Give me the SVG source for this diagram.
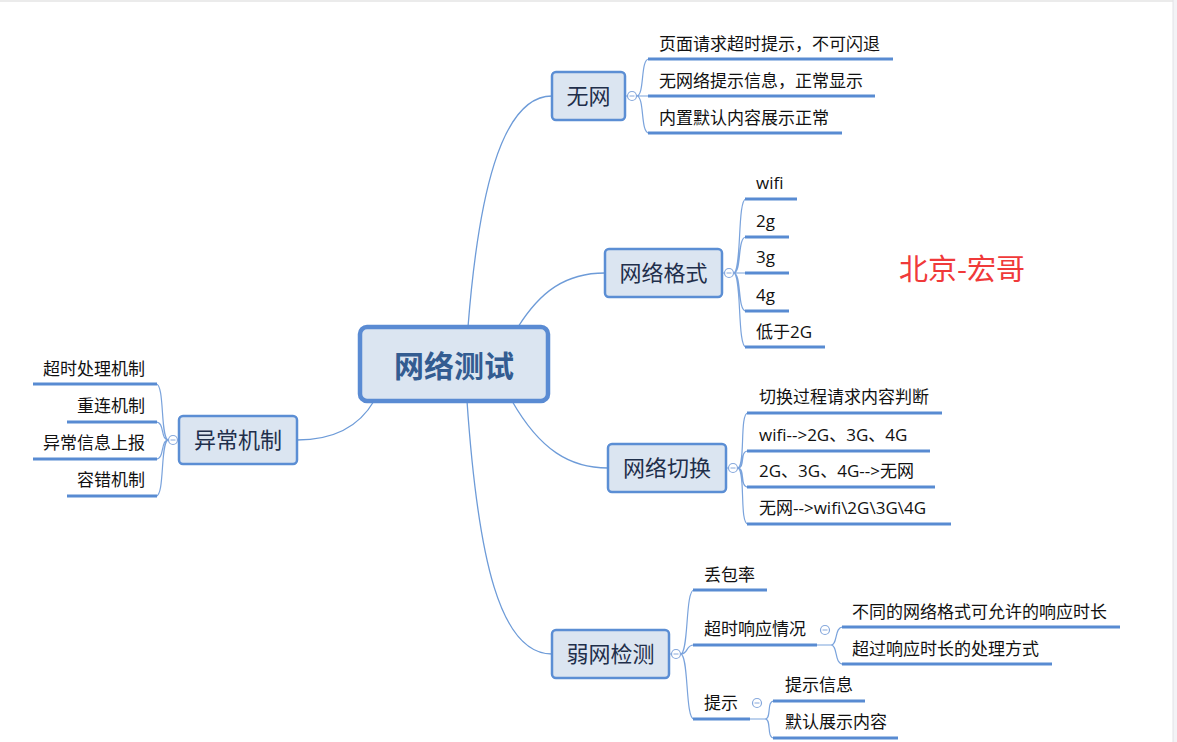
<svg xmlns="http://www.w3.org/2000/svg" width="1177" height="742" viewBox="0 0 1177 742">
<style>
.t{font-family:"Noto Sans CJK SC","Liberation Sans",sans-serif;}
.ct{font-family:"Open Sans","Noto Sans CJK SC",sans-serif;font-size:17px;fill:#111;}
.nb{fill:#dbe5f1;stroke:#5b8ed4;stroke-width:2.5;}
.nt{font-size:22px;fill:#1f2f4b;text-anchor:middle;}
.ul{stroke:#588bd2;stroke-width:3;fill:none;}
.cn{stroke:#6d9bd8;stroke-width:1.3;fill:none;}
.br{stroke:#7aa3dc;stroke-width:1.2;fill:none;}
.cc{fill:#fff;stroke:#86a8dc;stroke-width:1.2;}
</style>
<defs>
<g id="col"><circle class="cc" r="4.5"/><line x1="-2.5" y1="0" x2="2.5" y2="0" stroke="#86a8dc" stroke-width="1"/></g>
</defs>
<rect x="0" y="0" width="1177" height="742" fill="#fff"/>
<rect x="0" y="0" width="1177" height="2" fill="#ebebeb"/>
<rect x="1173" y="0" width="4" height="742" fill="#f3f3f6"/>
<line x1="1173" y1="0" x2="1173" y2="742" stroke="#e2e2e6" stroke-width="1"/>

<g id="connectors">
<path class="cn" d="M468,327 C478,200 500,96 552,96"/>
<path class="cn" d="M518,327 C540,292 565,273 605,273"/>
<path class="cn" d="M512,401 C540,450 570,468 608,468"/>
<path class="cn" d="M467,401 C478,560 500,654 552,654"/>
<path class="cn" d="M297,440 C335,440 360,425 374,401"/>
<path class="br" d="M625,96 H627.5 M636.5,96 C645,96 640,59 649,59 M636.5,96 H649 M636.5,96 C645,96 640,133 649,133"/>
<path class="br" d="M722,273 H724.5 M733.5,273 C742,273 737,199 746,199 M733.5,273 C742,273 737,237 746,237 M733.5,273 H746 M733.5,273 C742,273 737,311 746,311 M733.5,273 C742,273 737,347 746,347"/>
<path class="br" d="M726,468 H728.5 M737.5,468 C746,468 739,413 748,413 M737.5,468 C746,468 739,451 748,451 M737.5,468 C746,468 739,487 748,487 M737.5,468 C746,468 739,524 748,524"/>
<path class="br" d="M179,440 H177.5 M168.5,440 C160,440 165,384 156,384 M168.5,440 C160,440 165,422 156,422 M168.5,440 C160,440 165,459 156,459 M168.5,440 C160,440 165,496 156,496"/>
<path class="br" d="M669,654 H671.5 M680.5,654 C689,654 685,590 694,590 M680.5,654 C689,654 685,645 694,645 M680.5,654 C689,654 685,719 694,719"/>
<path class="br" d="M817,645 H831 C838,645 834,627 843,627 M831,645 C838,645 834,664 843,664"/>
<path class="br" d="M750,719 H765 C772,719 766,701 774,701 M765,719 C772,719 766,738 774,738"/>
</g>

<g id="central">
<rect x="360" y="327" width="188" height="74" rx="7" fill="#dbe5f1" stroke="#5a8bd3" stroke-width="4.5"/>
<text class="t" x="454" y="377" font-size="30" font-weight="bold" fill="#335c91" text-anchor="middle">网络测试</text>
</g>

<g id="node-wuwang">
<rect class="nb" x="552" y="72" width="73" height="48" rx="4"/>
<text class="t nt" x="588.5" y="104">无网</text>
<use href="#col" x="632" y="96"/>
</g>
<g id="wuwang-1"><text class="ct" x="659" y="50">页面请求超时提示，不可闪退</text><line class="ul" x1="648" y1="59" x2="893" y2="59"/></g>
<g id="wuwang-2"><text class="ct" x="659" y="87">无网络提示信息，正常显示</text><line class="ul" x1="648" y1="96" x2="875" y2="96"/></g>
<g id="wuwang-3"><text class="ct" x="659" y="124">内置默认内容展示正常</text><line class="ul" x1="648" y1="133" x2="842" y2="133"/></g>

<g id="node-geshi">
<rect class="nb" x="605" y="249" width="117" height="48" rx="4"/>
<text class="t nt" x="663.5" y="281">网络格式</text>
<use href="#col" x="729" y="273"/>
</g>
<g id="geshi-1"><text class="ct" x="756" y="189">wifi</text><line class="ul" x1="745" y1="199" x2="797" y2="199"/></g>
<g id="geshi-2"><text class="ct" x="756" y="227">2g</text><line class="ul" x1="745" y1="237" x2="789" y2="237"/></g>
<g id="geshi-3"><text class="ct" x="756" y="263">3g</text><line class="ul" x1="745" y1="273" x2="789" y2="273"/></g>
<g id="geshi-4"><text class="ct" x="756" y="301">4g</text><line class="ul" x1="745" y1="311" x2="789" y2="311"/></g>
<g id="geshi-5"><text class="ct" x="756" y="338">低于2G</text><line class="ul" x1="745" y1="347" x2="825" y2="347"/></g>

<g id="node-qiehuan">
<rect class="nb" x="608" y="444" width="118" height="48" rx="4"/>
<text class="t nt" x="667" y="476">网络切换</text>
<use href="#col" x="733" y="468"/>
</g>
<g id="qiehuan-1"><text class="ct" x="759" y="403">切换过程请求内容判断</text><line class="ul" x1="747" y1="413" x2="942" y2="413"/></g>
<g id="qiehuan-2"><text class="ct" x="759" y="441">wifi--&gt;2G、3G、4G</text><line class="ul" x1="747" y1="451" x2="930" y2="451"/></g>
<g id="qiehuan-3"><text class="ct" x="759" y="477">2G、3G、4G--&gt;无网</text><line class="ul" x1="747" y1="487" x2="935" y2="487"/></g>
<g id="qiehuan-4"><text class="ct" x="759" y="514">无网--&gt;wifi\2G\3G\4G</text><line class="ul" x1="747" y1="524" x2="951" y2="524"/></g>

<g id="node-ruowang">
<rect class="nb" x="552" y="630" width="117" height="48" rx="4"/>
<text class="t nt" x="610.5" y="662">弱网检测</text>
<use href="#col" x="676" y="654"/>
</g>
<g id="ruowang-1"><text class="ct" x="704" y="581">丢包率</text><line class="ul" x1="693" y1="590" x2="767" y2="590"/></g>
<g id="ruowang-2"><text class="ct" x="704" y="635">超时响应情况</text><line class="ul" x1="693" y1="645" x2="817" y2="645"/><use href="#col" x="825" y="630"/></g>
<g id="ruowang-2-1"><text class="ct" x="852" y="618">不同的网络格式可允许的响应时长</text><line class="ul" x1="842" y1="627" x2="1120" y2="627"/></g>
<g id="ruowang-2-2"><text class="ct" x="852" y="655">超过响应时长的处理方式</text><line class="ul" x1="842" y1="664" x2="1052" y2="664"/></g>
<g id="ruowang-3"><text class="ct" x="704" y="709">提示</text><line class="ul" x1="693" y1="719" x2="750" y2="719"/><use href="#col" x="757" y="703"/></g>
<g id="ruowang-3-1"><text class="ct" x="785" y="691">提示信息</text><line class="ul" x1="773" y1="701" x2="865" y2="701"/></g>
<g id="ruowang-3-2"><text class="ct" x="785" y="728">默认展示内容</text><line class="ul" x1="773" y1="738" x2="898" y2="738"/></g>

<g id="node-yichang">
<rect class="nb" x="179" y="416" width="118" height="48" rx="4"/>
<text class="t nt" x="238" y="448">异常机制</text>
<use href="#col" x="173" y="440"/>
</g>
<g id="yichang-1"><text class="ct" x="145" y="375" text-anchor="end">超时处理机制</text><line class="ul" x1="33" y1="384" x2="157" y2="384"/></g>
<g id="yichang-2"><text class="ct" x="145" y="412" text-anchor="end">重连机制</text><line class="ul" x1="67" y1="422" x2="157" y2="422"/></g>
<g id="yichang-3"><text class="ct" x="145" y="449" text-anchor="end">异常信息上报</text><line class="ul" x1="33" y1="459" x2="157" y2="459"/></g>
<g id="yichang-4"><text class="ct" x="145" y="486" text-anchor="end">容错机制</text><line class="ul" x1="67" y1="496" x2="157" y2="496"/></g>

<g id="label-red">
<text class="t" x="899" y="280" font-size="29" fill="#f03a3a">北京-宏哥</text>
</g>
</svg>
